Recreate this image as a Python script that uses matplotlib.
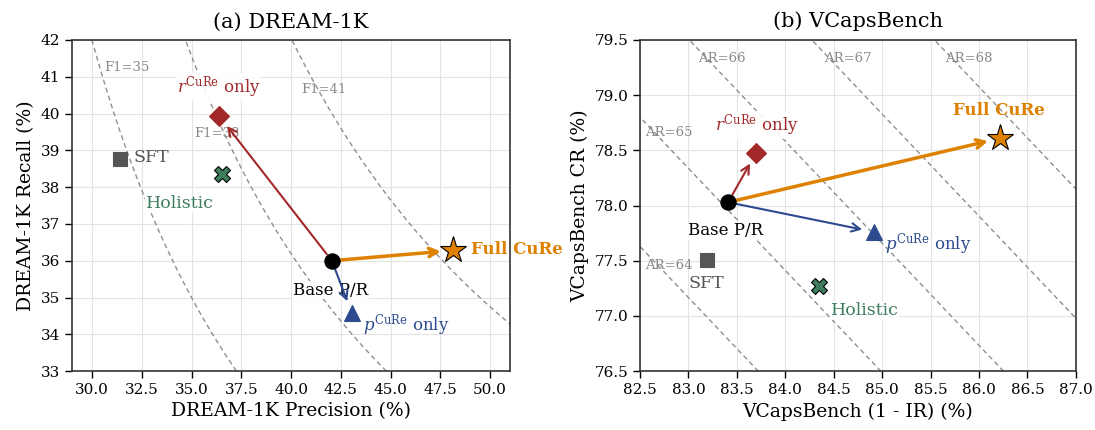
import matplotlib
matplotlib.use('Agg')
import matplotlib.pyplot as plt
import numpy as np

plt.rcParams['font.family'] = 'DejaVu Serif'
plt.rcParams['mathtext.fontset'] = 'dejavuserif'

# data: (a) DREAM-1K  precision / recall
methods = ['Base', 'r_only', 'p_only', 'Full', 'SFT', 'Holistic']
dream_p = [42.05, 36.4, 43.05, 48.15, 31.4, 36.55]
dream_r = [36.0, 39.93, 34.58, 36.28, 38.77, 38.36]
# (b) VCapsBench  (1-IR) / CR
vcaps_x = [83.41, 83.70, 84.92, 86.22, 83.19, 84.35]
vcaps_y = [78.03, 78.48, 77.76, 78.61, 77.51, 77.27]

f1_levels = [35, 38, 41]
ar_levels = [64, 65, 66, 67, 68]

RED = '#a3282a'
BLUE = '#2c4a8e'
ORANGE = '#de8000'
GREEN = '#3e7d5d'
GRAY = '#555555'
ISO = '#8f8f8f'

styles = {
    'Base': dict(marker='o', color='black', ms=11, mec='black', mew=0.8),
    'r_only': dict(marker='D', color=RED, ms=10, mec=RED, mew=0.8),
    'p_only': dict(marker='^', color=BLUE, ms=12, mec=BLUE, mew=0.8),
    'Full': dict(marker='*', color=ORANGE, ms=20, mec='black', mew=0.8),
    'SFT': dict(marker='s', color=GRAY, ms=10, mec=GRAY, mew=0.8),
    'Holistic': dict(marker='X', color=GREEN, ms=12, mec='black', mew=0.8),
}
arrow_style = {
    'r_only': (RED, 1.5),
    'p_only': (BLUE, 1.5),
    'Full': (ORANGE, 2.5),
}

fig = plt.figure(figsize=(10.95, 4.3), dpi=100)
ax1 = fig.add_axes([0.0658, 0.137, 0.400, 0.770])
ax2 = fig.add_axes([0.5845, 0.137, 0.398, 0.770])


def draw_points(ax, xs, ys):
    for i, m in enumerate(methods):
        ax.plot(xs[i], ys[i], linestyle='none', zorder=5, **styles[m])
    for m, (c, lw) in arrow_style.items():
        i = methods.index(m)
        ax.annotate('', xy=(xs[i], ys[i]), xytext=(xs[0], ys[0]),
                    arrowprops=dict(arrowstyle='->', color=c, lw=lw,
                                    shrinkA=6, shrinkB=9, mutation_scale=15),
                    zorder=4)


def style_axes(ax):
    ax.grid(True, color='#e3e3e3', lw=0.8, zorder=0)
    ax.set_axisbelow(True)
    for s in ax.spines.values():
        s.set_color('#333333')
        s.set_linewidth(1.2)
    ax.tick_params(direction='out', length=5, width=1, labelsize=11)


lbl_box = dict(facecolor='white', edgecolor='none', pad=0.5, alpha=0.9)

# ---------------- (a) DREAM-1K ----------------
ax = ax1
rr = np.linspace(33, 42, 300)
for f in f1_levels:
    pp = f * rr / (2 * rr - f)
    ax.plot(pp, rr, color=ISO, lw=1.0, dashes=(3.5, 2.5), zorder=1)
ax.text(30.6, 41.25, 'F1=35', fontsize=9.5, color='#888888', va='center')
ax.text(35.15, 39.45, 'F1=38', fontsize=9.5, color='#888888', va='center')
ax.text(40.5, 40.65, 'F1=41', fontsize=9.5, color='#888888', va='center')

draw_points(ax, dream_p, dream_r)

ax.text(34.25, 40.72, r'$r^{\mathrm{CuRe}}$ only', color=RED, fontsize=12, va='center', bbox=lbl_box, zorder=3)
ax.text(32.1, 38.8, 'SFT', color=GRAY, fontsize=12.5, va='center', zorder=3)
ax.text(32.7, 37.55, 'Holistic', color=GREEN, fontsize=12.5, va='center', bbox=lbl_box, zorder=3)
ax.text(40.1, 35.2, 'Base P/R', color='black', fontsize=12, va='center', bbox=lbl_box, zorder=3)
ax.text(43.6, 34.25, r'$p^{\mathrm{CuRe}}$ only', color=BLUE, fontsize=12, va='center', zorder=3)
ax.text(49.05, 36.3, 'Full CuRe', color=ORANGE, fontsize=12, fontweight='bold', va='center', zorder=3)

ax.set_xlim(29, 51)
ax.set_ylim(33, 42)
ax.set_xticks(np.arange(30, 50.1, 2.5))
ax.set_yticks(np.arange(33, 42.1, 1))
ax.set_xlabel('DREAM-1K Precision (%)', fontsize=13.5)
ax.set_ylabel('DREAM-1K Recall (%)', fontsize=13.5)
ax.set_title('(a) DREAM-1K', fontsize=15, pad=9)
style_axes(ax)

# ---------------- (b) VCapsBench ----------------
ax = ax2
# AR iso-lines: AR = a*x + b*y + c
a_w, b_w, c_w = 0.79, 0.854, -67.47
xx = np.linspace(80, 88, 50)
for lv in ar_levels:
    yy = (lv - c_w - a_w * xx) / b_w
    ax.plot(xx, yy, color=ISO, lw=1.0, dashes=(3.5, 2.5), zorder=1)
ax.text(83.1, 79.33, 'AR=66', fontsize=9.5, color='#888888', va='center')
ax.text(84.4, 79.33, 'AR=67', fontsize=9.5, color='#888888', va='center')
ax.text(85.65, 79.33, 'AR=68', fontsize=9.5, color='#888888', va='center')
ax.text(82.55, 78.66, 'AR=65', fontsize=9.5, color='#888888', va='center')
ax.text(82.55, 77.46, 'AR=64', fontsize=9.5, color='#888888', va='center')

draw_points(ax, vcaps_x, vcaps_y)

ax.text(83.27, 78.73, r'$r^{\mathrm{CuRe}}$ only', color=RED, fontsize=12, va='center', bbox=lbl_box, zorder=3)
ax.text(85.73, 78.86, 'Full CuRe', color=ORANGE, fontsize=12, fontweight='bold', va='center', zorder=3)
ax.text(83.0, 77.77, 'Base P/R', color='black', fontsize=12, va='center', bbox=lbl_box, zorder=3)
ax.text(83.0, 77.29, 'SFT', color=GRAY, fontsize=12.5, va='center', zorder=3)
ax.text(84.47, 77.05, 'Holistic', color=GREEN, fontsize=12.5, va='center', bbox=lbl_box, zorder=3)
ax.text(85.03, 77.65, r'$p^{\mathrm{CuRe}}$ only', color=BLUE, fontsize=12, va='center', zorder=3)

ax.set_xlim(82.5, 87.0)
ax.set_ylim(76.5, 79.5)
ax.set_xticks(np.arange(82.5, 87.01, 0.5))
ax.set_yticks(np.arange(76.5, 79.51, 0.5))
ax.set_xlabel('VCapsBench (1 - IR) (%)', fontsize=13.5)
ax.set_ylabel('VCapsBench CR (%)', fontsize=13.5)
ax.set_title('(b) VCapsBench', fontsize=15, pad=9)
style_axes(ax)

fig.savefig('out.png', dpi=100)
